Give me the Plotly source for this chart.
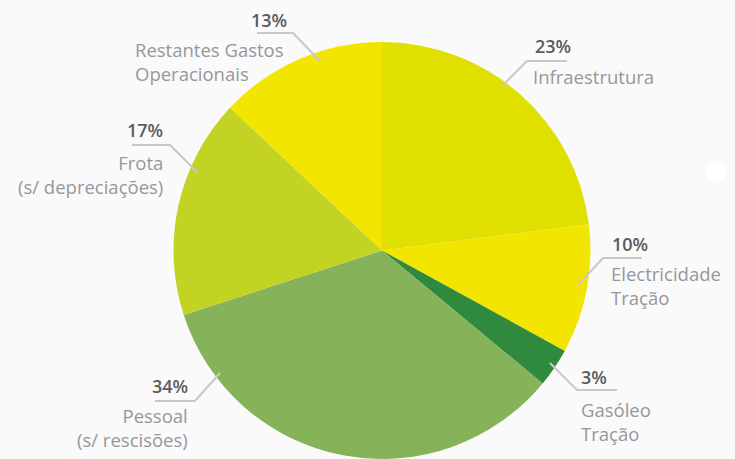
import plotly.graph_objects as go

W, H = 735, 459

labels = ["Infraestrutura", "Electricidade Tração", "Gasóleo Tração",
          "Pessoal (s/ rescisões)", "Frota (s/ depreciações)", "Restantes Gastos Operacionais"]
values = [23, 10, 3, 34, 17, 13]
colors = ["#dfdf00", "#f2e600", "#2f8a3d", "#86b25a", "#c2d324", "#f2e600"]
pct_text = ["23%", "10%", "3%", "34%", "17%", "13%"]
name_text = ["Infraestrutura", "Electricidade<br>Tração", "Gasóleo<br>Tração",
             "Pessoal<br>(s/ rescisões)", "Frota<br>(s/ depreciações)",
             "Restantes Gastos<br>Operacionais"]


def px(x):
    return x / W


def py(y):
    return 1 - y / H


fig = go.Figure(go.Pie(
    labels=labels, values=values, sort=False, direction="clockwise", rotation=0,
    marker=dict(colors=colors, line=dict(width=0)),
    textinfo="none", hoverinfo="label+percent",
    domain=dict(x=[px(382 - 209), px(382 + 209)], y=[0, py(42)]),
    showlegend=False,
))

# label layout: (pct x, pct y, name x, name y, anchor)
lab_pos = [
    (534, 46, 532, 76, "left"),
    (611, 244, 610, 285, "left"),
    (580, 377, 580, 421, "left"),
    (189, 386, 189, 427, "right"),
    (164, 130, 164, 174, "right"),
    (288, 20, 134, 61, None),
]
leaders = [
    [(502, 86), (527, 61), (567, 61)],
    [(578, 285), (603, 258), (642, 258)],
    [(550, 363), (577, 390), (617, 390)],
    [(220, 373), (195, 401), (155, 401)],
    [(197, 172), (170, 145), (132, 145)],
    [(320, 61), (293, 33), (257, 33)],
]

FONT = "Open Sans"
annotations = []
for i, (x1, y1, x2, y2, anc) in enumerate(lab_pos):
    pa = anc if anc else "right"
    na = anc if anc else "left"
    annotations.append(dict(
        text=pct_text[i], x=px(x1), y=py(y1), xref="paper", yref="paper",
        xanchor=pa, yanchor="middle", showarrow=False, borderpad=0,
        font=dict(family=FONT, size=18, color="#5b5c60", weight=600),
    ))
    annotations.append(dict(
        text=name_text[i], x=px(x2), y=py(y2), xref="paper", yref="paper",
        xanchor=na, yanchor="middle", align=na, showarrow=False, borderpad=0,
        font=dict(family=FONT, size=18.5, color="#96979b", weight=400),
    ))

shapes = []
for pts in leaders:
    path = "M " + " L ".join(f"{px(x)},{py(y)}" for x, y in pts)
    shapes.append(dict(type="path", path=path, xref="paper", yref="paper",
                       line=dict(color="#c8c8ca", width=2)))
shapes.append(dict(type="circle", xref="paper", yref="paper",
                   x0=px(706), x1=px(726), y0=py(181), y1=py(161),
                   fillcolor="#ffffff", line=dict(width=0)))

fig.update_layout(
    width=W, height=H, margin=dict(l=0, r=0, t=0, b=0),
    paper_bgcolor="#fafafa", plot_bgcolor="#fafafa",
    annotations=annotations, shapes=shapes,
)

fig.write_html("out.html")
